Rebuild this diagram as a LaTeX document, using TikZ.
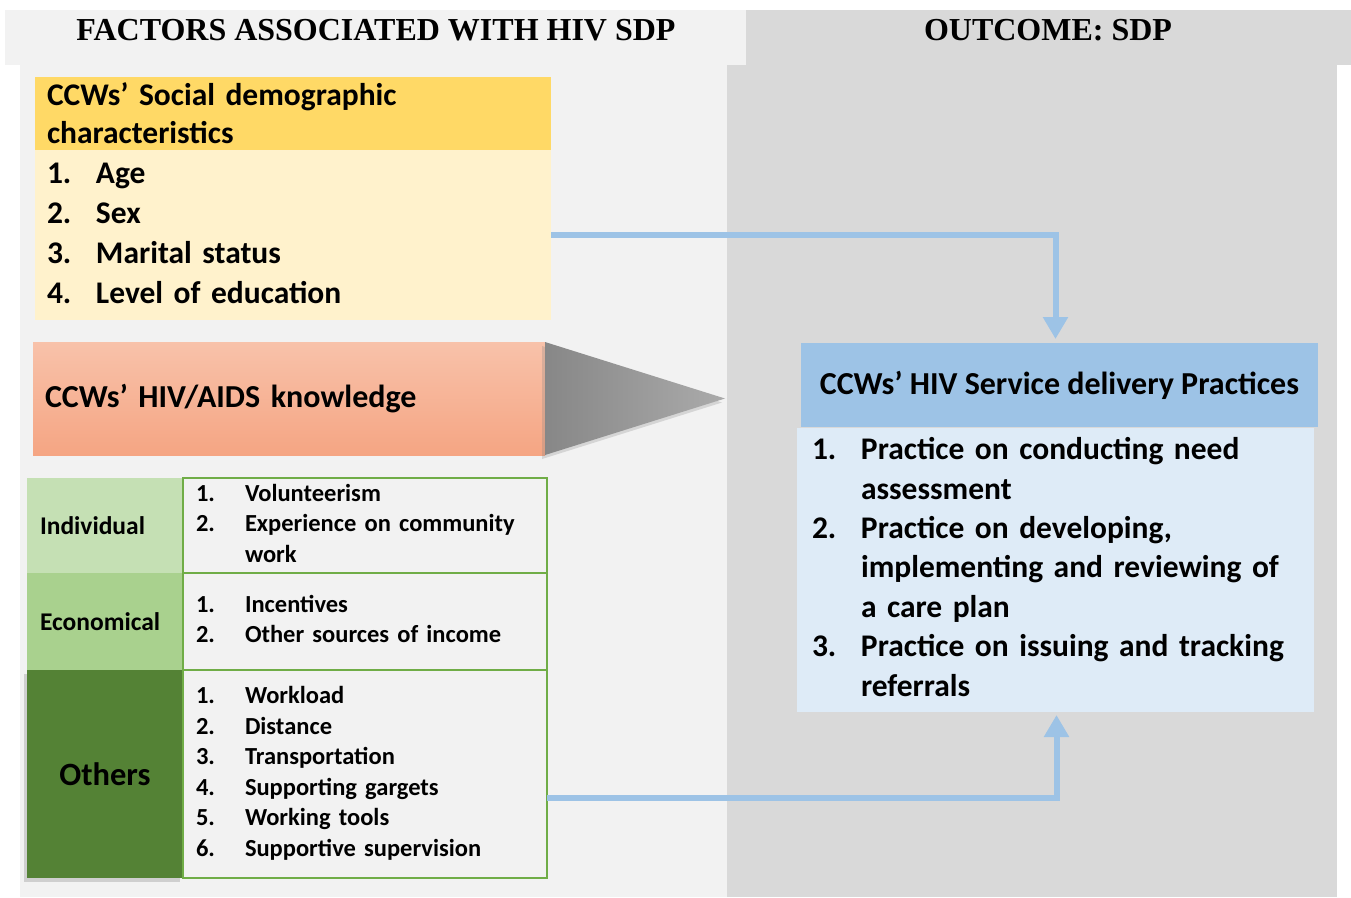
\documentclass[tikz,border=0pt]{standalone}
\usepackage{fontspec}
\setmainfont{Carlito}
\newfontfamily\headfont{Liberation Serif}
\usepackage{xcolor}
\usepackage{tikz}
\usetikzlibrary{positioning,calc,arrows.meta,shadows}

\definecolor{panelL}{HTML}{F2F2F2}
\definecolor{panelR}{HTML}{D9D9D9}
\definecolor{sochead}{HTML}{FFD966}
\definecolor{socbody}{HTML}{FFF2CC}
\definecolor{knowtop}{HTML}{F8C2AA}
\definecolor{knowbot}{HTML}{F5A583}
\definecolor{indiv}{HTML}{C5E0B4}
\definecolor{econ}{HTML}{A9D18E}
\definecolor{others}{HTML}{548235}
\definecolor{tabline}{HTML}{70AD47}
\definecolor{prachead}{HTML}{9DC3E6}
\definecolor{pracbody}{HTML}{DEEBF7}

\newcommand{\bigfont}{\fontsize{31.5}{40}\selectfont\bfseries}
\newcommand{\cellfont}{\fontsize{24.5}{30.5}\selectfont\bfseries}

\begin{document}
\begin{tikzpicture}[x=1pt,y=-1pt,
	box/.style={inner sep=0pt,outer sep=0pt,anchor=north west},
	colhead/.style={font=\headfont\bfseries\fontsize{32}{36}\selectfont},
	cell/.style={inner xsep=13pt,inner ysep=0pt,outer sep=0pt,minimum width=156pt,text width=130pt,align=left,font=\fontsize{25.5}{30}\selectfont\bfseries},
	listcell/.style={draw=tabline,line width=1.5pt,inner xsep=13pt,inner ysep=0pt,outer sep=0pt,minimum width=364pt,text width=338pt,align=left,font=\cellfont},
	flow/.style={draw=prachead,line width=6pt,-{Triangle[width=24pt,length=22pt]}}]
	\useasboundingbox (0,0) rectangle (1351,897);
	% column backgrounds
	\fill[panelL] (5,10) rectangle (746,65);
	\fill[panelR] (746,10) rectangle (1351,65);
	\fill[panelL] (20,65) rectangle (727,897);
	\fill[panelR] (727,65) rectangle (1337,897);
	\node[colhead] (factors) at (376,30) {FACTORS ASSOCIATED WITH HIV SDP};
	\node[colhead] (outcome) at (1048,30) {OUTCOME: SDP};
	
	% social demographic box
	\node[box,fill=sochead,minimum width=516pt,minimum height=73pt,inner xsep=12pt,text width=492pt,align=left,font=\fontsize{31.5}{38}\selectfont\bfseries] (soc) at (35,77) {CCWs’ Social demographic\\characteristics};
	\node[fill=socbody,inner xsep=12pt,inner ysep=0pt,outer sep=0pt,minimum width=516pt,minimum height=170pt,text width=492pt,align=left,font=\bigfont,below=0pt of soc] (socitems) {%
		\begin{tabular}{@{}p{49pt}@{}l@{}}
			1. & Age\\
			2. & Sex\\
			3. & Marital status\\
			4. & Level of education
		\end{tabular}};
	
	% knowledge arrow
	\node[box,top color=knowtop,bottom color=knowbot,minimum width=512pt,minimum height=113pt,inner xsep=12pt,text width=488pt,align=left,font=\fontsize{32}{40}\selectfont\bfseries] (know) at (33,342) {CCWs’ HIV/AIDS knowledge};
	\coordinate (tip) at ($(know.east)+(180,0)$);
	\shade[left color=black!47,right color=black!33,drop shadow={shadow xshift=-3pt,shadow yshift=-4pt,opacity=.25}] (know.north east) -- (tip) -- (know.south east) -- cycle;
	
	% other factors table
	\node[cell,box,fill=indiv,minimum height=95pt] (individual) at (27,478) {Individual};
	\node[listcell,minimum height=95pt,right=0pt of individual] (indivlist) {%
		\begin{tabular}{@{}p{49pt}@{}l@{}}
			1. & Volunteerism\\
			2. & Experience on community\\
			   & work
		\end{tabular}};
	\node[cell,fill=econ,minimum height=97pt,below=0pt of individual] (economical) {Economical};
	\node[listcell,minimum height=97pt,right=0pt of economical] (econlist) {%
		\begin{tabular}{@{}p{49pt}@{}l@{}}
			1. & Incentives\\
			2. & Other sources of income
		\end{tabular}};
	\node[cell,fill=others,minimum height=208pt,align=center,font=\fontsize{32.5}{36}\selectfont\bfseries,drop shadow={shadow xshift=-3pt,shadow yshift=-4pt,opacity=.3},below=0pt of economical] (others) {Others};
	\node[listcell,minimum height=208pt,right=0pt of others] (otherslist) {%
		\begin{tabular}{@{}p{49pt}@{}l@{}}
			1. & Workload\\
			2. & Distance\\
			3. & Transportation\\
			4. & Supporting gargets\\
			5. & Working tools\\
			6. & Supportive supervision
		\end{tabular}};
	
	% outcome box
	\node[box,fill=prachead,minimum width=517pt,minimum height=84pt,align=center,font=\fontsize{32}{38}\selectfont\bfseries] (practice) at (801,343) {CCWs’ HIV Service delivery Practices};
	\node[box,fill=pracbody,minimum width=517pt,minimum height=284pt,inner xsep=15pt,text width=487pt,align=left,font=\fontsize{31.5}{39.4}\selectfont\bfseries] (practlist) at (797,428) {%
		\begin{tabular}{@{}p{49pt}@{}l@{}}
			1. & Practice on conducting need\\
			   & assessment\\
			2. & Practice on developing,\\
			   & implementing and reviewing of\\
			   & a care plan\\
			3. & Practice on issuing and tracking\\
			   & referrals
		\end{tabular}};
	
	% links to the outcome
	\draw[flow,shorten >=4pt] (socitems.east) -| ([xshift=-4pt]practice.north);
	\draw[flow,shorten >=3pt] ($(otherslist.east)+(0,24)$) -| ([xshift=1pt]practlist.south);
\end{tikzpicture}
\end{document}
